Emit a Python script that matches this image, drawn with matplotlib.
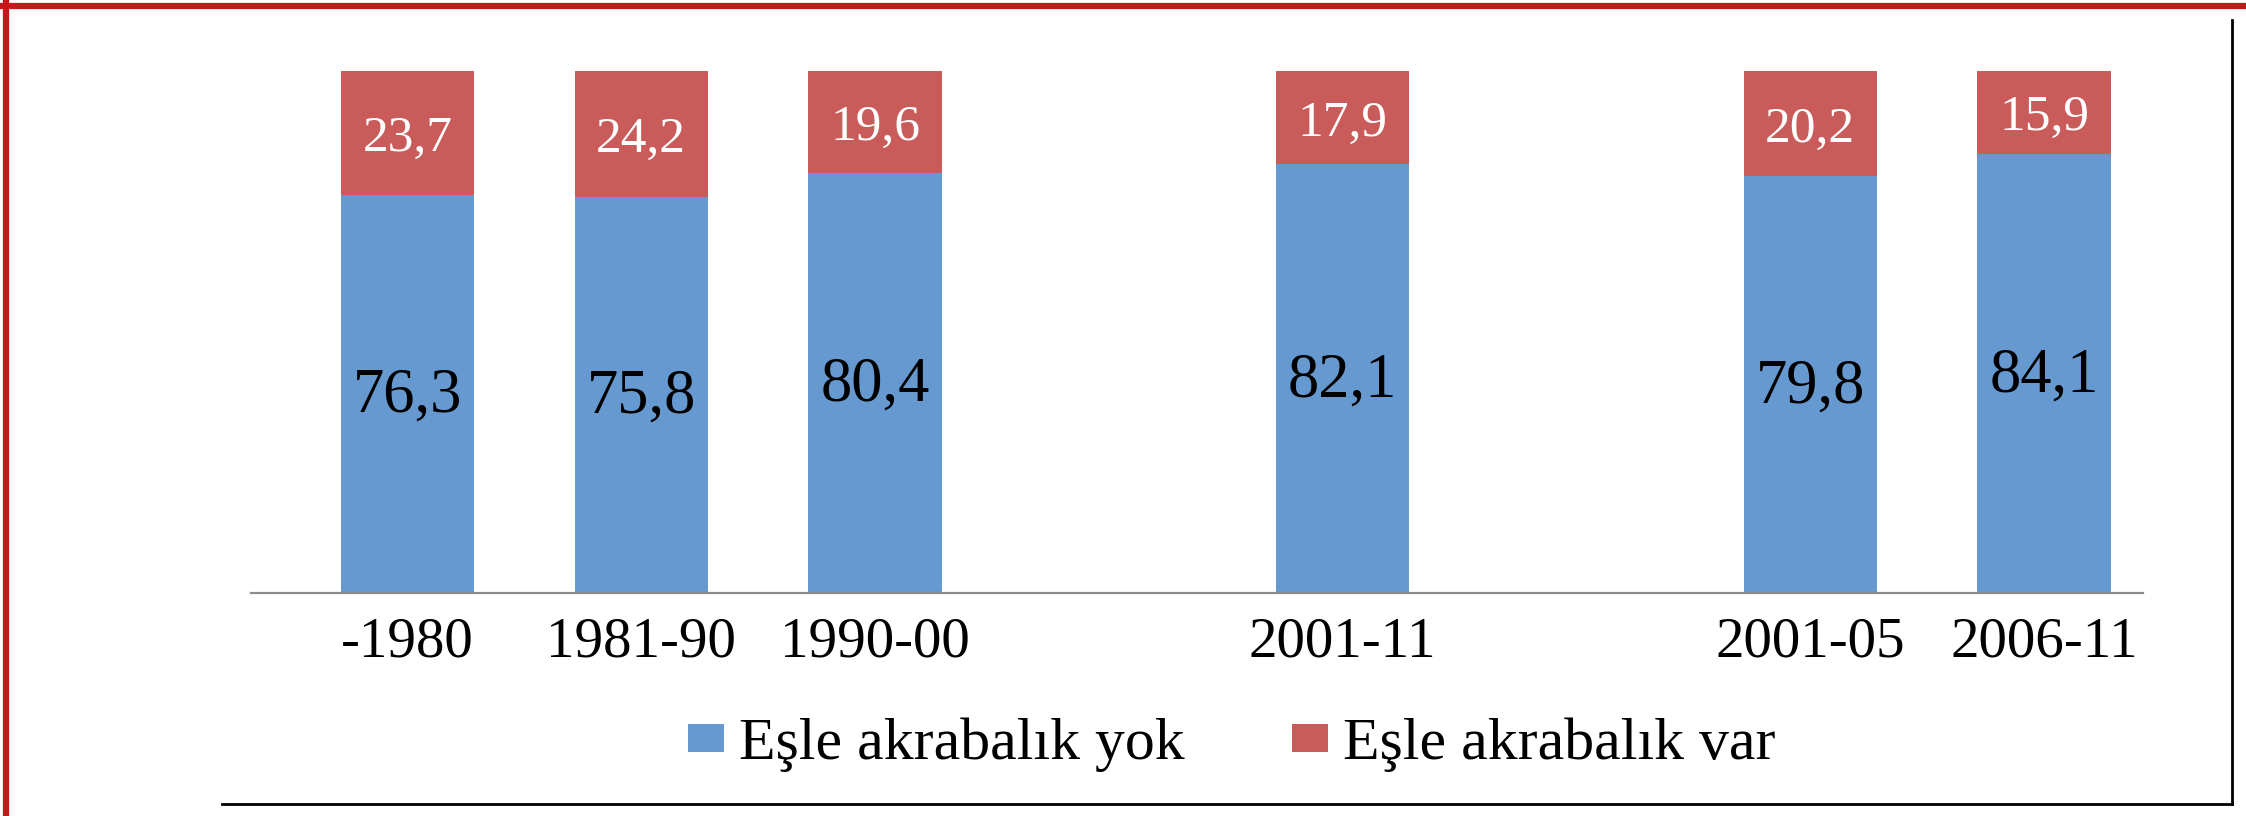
import matplotlib
matplotlib.use("Agg")
import matplotlib.pyplot as plt
from matplotlib.lines import Line2D

categories = ['-1980', '1981-90', '1990-00', '2001-11', '2001-05', '2006-11']
yok = [76.3, 75.8, 80.4, 82.1, 79.8, 84.1]
var = [23.7, 24.2, 19.6, 17.9, 20.2, 15.9]
series_names = ['Eşle akrabalık yok', 'Eşle akrabalık var']

# layout: category slots (gaps at 3 and 5)
slots = [0, 1, 2, 4, 6, 7]

BLUE = '#6699CF'
RED = '#C95C5A'
FONT = ['Liberation Serif', 'DejaVu Serif']
plt.rcParams['font.family'] = FONT

W, H = 2246, 816
fig = plt.figure(figsize=(W / 100, H / 100), dpi=100)
ax = fig.add_axes([251 / W, 1 - 593 / H, (2143 - 251) / W, (593 - 71) / H])

bw = 0.57
b1 = ax.bar(slots, yok, width=bw, color=BLUE, label=series_names[0], zorder=2)
b2 = ax.bar(slots, var, width=bw, bottom=yok, color=RED, label=series_names[1], zorder=2)

for x, a, b in zip(slots, yok, var):
    ax.annotate(f"{a:.1f}".replace('.', ','), (x, a / 2), xytext=(0, -2),
                textcoords='offset points', ha='center', va='center',
                fontsize=45, color='black', zorder=3)
    ax.annotate(f"{b:.1f}".replace('.', ','), (x, a + b / 2), xytext=(0, -4),
                textcoords='offset points', ha='center', va='center',
                fontsize=37, color='white', zorder=3)

ax.set_xlim(-0.669, 7.423)
ax.set_ylim(0, 100)
ax.set_xticks(slots)
ax.set_xticklabels(categories, fontsize=41)
ax.tick_params(axis='x', length=0, pad=17)
ax.set_yticks([])
for s in ['top', 'right', 'left']:
    ax.spines[s].set_visible(False)
ax.spines['bottom'].set_color('#8C8C8C')
ax.spines['bottom'].set_linewidth(1.6)

leg = fig.legend(handles=[b1, b2], labels=series_names, loc='center',
                 bbox_to_anchor=(1232 / W, 1 - 745 / H), ncol=2, frameon=False,
                 fontsize=43, handlelength=0.6, handleheight=0.35,
                 handletextpad=0.25, columnspacing=1.8)

# frame lines
fig.add_artist(Line2D([0, 1], [1 - 5.5 / H, 1 - 5.5 / H], transform=fig.transFigure,
                      color='#C8161D', linewidth=4.5))
fig.add_artist(Line2D([6 / W, 6 / W], [0, 1], transform=fig.transFigure,
                      color='#C8161D', linewidth=4.5))
fig.add_artist(Line2D([222 / W, 2232 / W], [1 - 804 / H, 1 - 804 / H],
                      transform=fig.transFigure, color='black', linewidth=2))
fig.add_artist(Line2D([2232 / W, 2232 / W], [1 - 804 / H, 1 - 20 / H],
                      transform=fig.transFigure, color='black', linewidth=2))

fig.savefig('out.png', dpi=100, facecolor='white')
